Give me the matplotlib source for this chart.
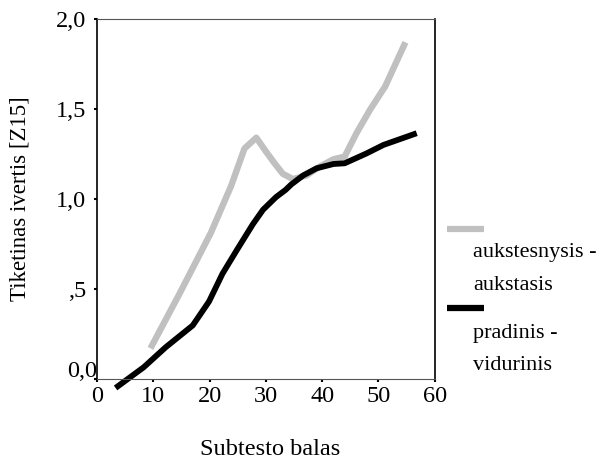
import matplotlib
matplotlib.use("Agg")
import matplotlib.pyplot as plt
from matplotlib.lines import Line2D
from matplotlib.transforms import ScaledTranslation

plt.rcParams['font.family'] = ['Liberation Serif', 'DejaVu Serif']

# Subtest score vs expected estimate, two school-level groups
upper_x = [9.5, 14.6, 20.2, 23.8, 26.2, 28.3, 30.1, 31.5, 33.0, 34.8, 37.2, 39.6,
           42.0, 44.0, 46.1, 48.5, 51.2, 54.8]
upper_y = [0.17, 0.47, 0.81, 1.07, 1.28, 1.34, 1.26, 1.20, 1.14, 1.11, 1.13, 1.18,
           1.22, 1.235, 1.365, 1.495, 1.625, 1.87]

lower_x = [3.3, 8.3, 12.2, 17.0, 19.9, 22.3, 25.0, 27.7, 29.5, 31.8, 33.5, 34.5,
           36.6, 39.0, 42.0, 44.0, 47.9, 50.9, 56.8]
lower_y = [-0.05, 0.065, 0.176, 0.297, 0.43, 0.585, 0.724, 0.86, 0.94, 1.01, 1.05,
           1.08, 1.13, 1.17, 1.194, 1.198, 1.253, 1.30, 1.365]

x_ticks = [0, 10, 20, 30, 40, 50, 60]
y_ticks = [0.0, 0.5, 1.0, 1.5, 2.0]
y_tick_labels = ['0,0', ',5', '1,0', '1,5', '2,0']

series_names = ['aukstesnysis -\naukstasis', 'pradinis -\nvidurinis']
series_colors = ['#c0c0c0', '#000000']

fig = plt.figure(figsize=(6.14, 4.61), dpi=100)
ax = fig.add_axes([0.158, 0.178, 0.550, 0.781])

ax.plot(upper_x, upper_y, color=series_colors[0], lw=4.6, clip_on=False,
        solid_capstyle='butt')
ax.plot(lower_x, lower_y, color=series_colors[1], lw=4.2, clip_on=False,
        solid_capstyle='butt')

ax.set_xlim(0, 60)
ax.set_ylim(0, 2.0)
ax.set_xticks(x_ticks)
ax.set_yticks(y_ticks)
ax.set_yticklabels(y_tick_labels)
ax.tick_params(labelsize=17.5, length=2, width=1.5)
ax.tick_params(axis='x', pad=3)
ax.tick_params(axis='y', pad=6)
# the bottom label sits a little above its tick
ax.get_yticklabels()[0].set_transform(
    ax.get_yaxis_transform(which='tick1')
    + ScaledTranslation(0, 10 / 100, fig.dpi_scale_trans))

for side in ['top', 'bottom']:
    ax.spines[side].set_linestyle((0, (2, 1)))
    ax.spines[side].set_linewidth(0.8)
    ax.spines[side].set_color('#555555')
for side in ['left', 'right']:
    ax.spines[side].set_linewidth(1.2)

W, H = 614, 461
fig.text(270 / W, 1 - 449 / H, 'Subtesto balas', fontsize=17.5, ha='center',
         va='center')
fig.text(20 / W, 1 - 199 / H, 'Tiketinas ivertis [Z15]', fontsize=16.5,
         rotation=90, ha='center', va='center')

# legend built by hand: handle on its own line, text below
handle_y = [229, 308]
text_y = [[253, 285], [333, 365]]
for i in range(2):
    fig.add_artist(Line2D([447 / W, 484 / W], [1 - handle_y[i] / H] * 2,
                          color=series_colors[i], lw=4.5,
                          solid_capstyle='butt'))
    for line, yy in zip(series_names[i].split('\n'), text_y[i]):
        fig.text(473 / W, 1 - yy / H, line, fontsize=16, va='center',
                 ha='left')

fig.savefig('out.png', dpi=100)
